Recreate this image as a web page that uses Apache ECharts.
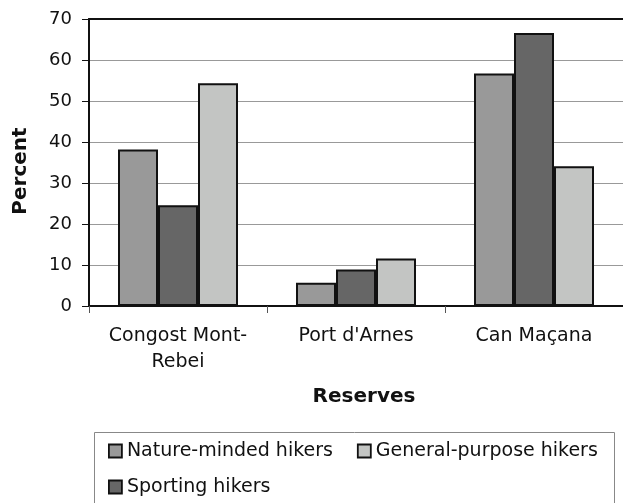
<!DOCTYPE html>
<html>
<head>
<meta charset="utf-8">
<script src="https://cdn.jsdelivr.net/npm/echarts@6/dist/echarts.min.js"></script>
<style>
html,body{margin:0;padding:0;background:#fff;}
#chart{width:623px;height:503px;}
</style>
</head>
<body>
<div id="chart"></div>
<script>
const categories = ['Congost Mont-\nRebei', "Port d'Arnes", 'Can Maçana'];
const seriesNames = ['Nature-minded hikers', 'Sporting hikers', 'General-purpose hikers'];
const natureMinded = [38.2, 5.7, 56.7];
const sporting = [24.6, 8.9, 66.6];
const generalPurpose = [54.3, 11.6, 34.1];
const yTicks = [0, 10, 20, 30, 40, 50, 60, 70];

const FONT = 'DejaVu Sans';
const colors = ['#999999', '#666666', '#c3c5c3'];
const values = [natureMinded, sporting, generalPurpose];

const chart = echarts.init(document.getElementById('chart'), null, {renderer: 'canvas'});

const series = seriesNames.map((name, i) => ({
  name: name,
  type: 'bar',
  data: values[i],
  barWidth: 40,
  barGap: '0%',
  itemStyle: {color: colors[i], borderColor: '#111', borderWidth: 2},
  emphasis: {disabled: true},
  animation: false
}));

const legendCommon = {
  orient: 'horizontal',
  padding: 0,
  itemWidth: 13,
  itemHeight: 13,
  itemGap: 24,
  icon: 'rect',
  selectedMode: false,
  itemStyle: {borderColor: '#111', borderWidth: 1.8},
  textStyle: {fontFamily: FONT, fontSize: 19, color: '#111', lineHeight: 20, padding: 0}
};

chart.setOption({
  animation: false,
  backgroundColor: '#fff',
  textStyle: {fontFamily: FONT},
  grid: {left: 89, right: 0, top: 19, bottom: 197, containLabel: false},
  xAxis: [{
    type: 'category',
    data: categories,
    boundaryGap: true,
    axisLine: {show: true, lineStyle: {color: '#111', width: 2}},
    axisTick: {show: true, alignWithLabel: false, length: 7, lineStyle: {color: '#555', width: 1}},
    axisLabel: {fontFamily: FONT, fontSize: 19, color: '#111', margin: 17, lineHeight: 26, interval: 0},
    splitLine: {show: false}
  }, {
    type: 'category',
    data: categories,
    position: 'top',
    axisLine: {show: true, lineStyle: {color: '#111', width: 2}},
    axisTick: {show: false},
    axisLabel: {show: false},
    splitLine: {show: false}
  }],
  yAxis: {
    type: 'value',
    min: yTicks[0],
    max: yTicks[yTicks.length - 1],
    interval: 10,
    axisLine: {show: true, lineStyle: {color: '#111', width: 2}},
    axisTick: {show: true, length: 7, lineStyle: {color: '#111', width: 1}},
    axisLabel: {fontFamily: FONT, fontSize: 18, color: '#111', margin: 17},
    splitLine: {show: true, lineStyle: {color: '#999', width: 1}}
  },
  legend: [
    Object.assign({}, legendCommon, {left: 108, top: 441, data: [seriesNames[0], seriesNames[2]]}),
    Object.assign({}, legendCommon, {left: 108, top: 477, data: [seriesNames[1]]})
  ],
  graphic: [
    {
      type: 'rect',
      x: 94.5, y: 432.5,
      shape: {x: 0, y: 0, width: 520, height: 100},
      style: {fill: 'none', stroke: '#888', lineWidth: 1},
      silent: true
    },
    {
      type: 'text',
      style: {text: 'Reserves', font: 'bold 20px "DejaVu Sans"', fill: '#111', align: 'center', verticalAlign: 'middle'},
      x: 364, y: 397,
      silent: true
    },
    {
      type: 'text',
      style: {text: 'Percent', font: 'bold 20px "DejaVu Sans"', fill: '#111', align: 'center', verticalAlign: 'middle'},
      x: 20.5, y: 171,
      rotation: Math.PI / 2,
      silent: true
    }
  ],
  series: series
});
</script>
</body>
</html>
